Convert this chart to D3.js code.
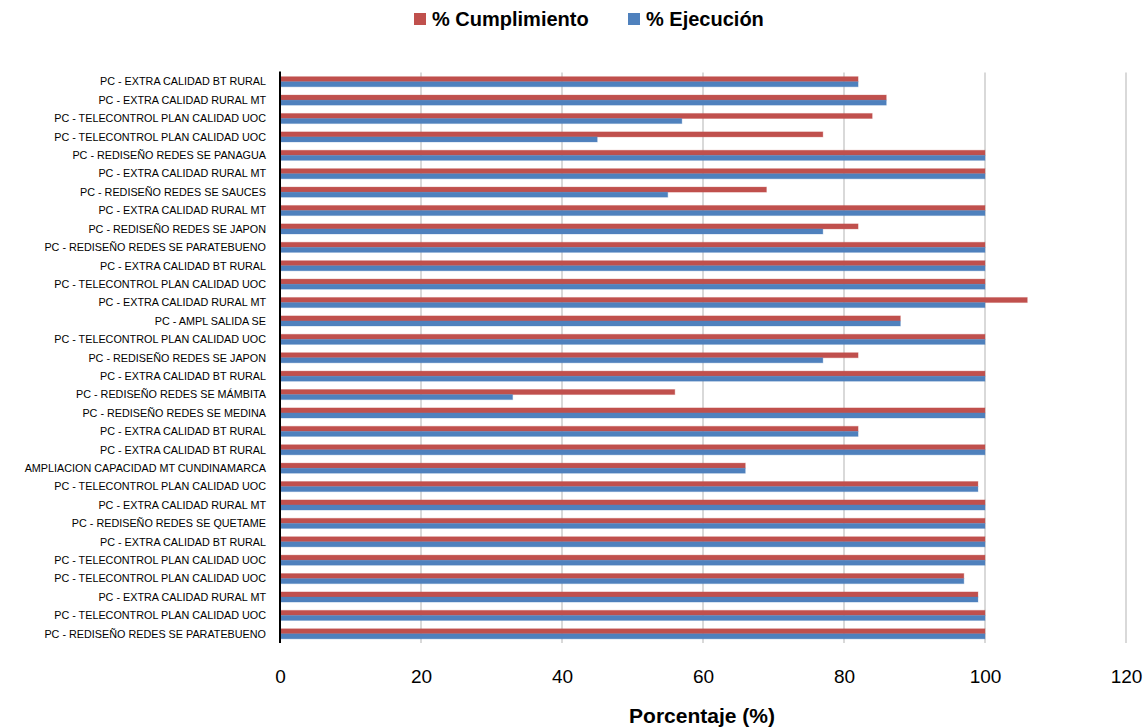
<!DOCTYPE html>
<html>
<head>
<meta charset="utf-8">
<script src="https://cdn.jsdelivr.net/npm/d3@7"></script>
<style>
  html, body { margin: 0; padding: 0; background: #ffffff; }
  svg { display: block; font-family: "Liberation Sans", Arial, sans-serif; }
</style>
</head>
<body>
<svg id="chart" width="1147" height="727"></svg>
<script>
// Project names, top to bottom
const categories = [
  "PC - EXTRA CALIDAD BT RURAL",
  "PC - EXTRA CALIDAD RURAL MT",
  "PC - TELECONTROL PLAN CALIDAD UOC",
  "PC - TELECONTROL PLAN CALIDAD UOC",
  "PC - REDISEÑO REDES SE PANAGUA",
  "PC - EXTRA CALIDAD RURAL MT",
  "PC - REDISEÑO REDES SE SAUCES",
  "PC - EXTRA CALIDAD RURAL MT",
  "PC - REDISEÑO REDES SE JAPON",
  "PC - REDISEÑO REDES SE PARATEBUENO",
  "PC - EXTRA CALIDAD BT RURAL",
  "PC - TELECONTROL PLAN CALIDAD UOC",
  "PC - EXTRA CALIDAD RURAL MT",
  "PC - AMPL SALIDA SE",
  "PC - TELECONTROL PLAN CALIDAD UOC",
  "PC - REDISEÑO REDES SE JAPON",
  "PC - EXTRA CALIDAD BT RURAL",
  "PC - REDISEÑO REDES SE MÁMBITA",
  "PC - REDISEÑO REDES SE MEDINA",
  "PC - EXTRA CALIDAD BT RURAL",
  "PC - EXTRA CALIDAD BT RURAL",
  "AMPLIACION CAPACIDAD MT CUNDINAMARCA",
  "PC - TELECONTROL PLAN CALIDAD UOC",
  "PC - EXTRA CALIDAD RURAL MT",
  "PC - REDISEÑO REDES SE QUETAME",
  "PC - EXTRA CALIDAD BT RURAL",
  "PC - TELECONTROL PLAN CALIDAD UOC",
  "PC - TELECONTROL PLAN CALIDAD UOC",
  "PC - EXTRA CALIDAD RURAL MT",
  "PC - TELECONTROL PLAN CALIDAD UOC",
  "PC - REDISEÑO REDES SE PARATEBUENO"
];

// % Cumplimiento per project
const cumplimiento = [82, 86, 84, 77, 100, 100, 69, 100, 82, 100, 100, 100, 106, 88, 100, 82,
                      100, 56, 100, 82, 100, 66, 99, 100, 100, 100, 100, 97, 99, 100, 100];

// % Ejecución per project
const ejecucion = [82, 86, 57, 45, 100, 100, 55, 100, 77, 100, 100, 100, 100, 88, 100, 77,
                   100, 33, 100, 82, 100, 66, 99, 100, 100, 100, 100, 97, 99, 100, 100];

const seriesNames = ["% Cumplimiento", "% Ejecución"];
const seriesColors = ["#C0504D", "#4F81BD"];
const xTicks = [0, 20, 40, 60, 80, 100, 120];
const xTitle = "Porcentaje (%)";

const svg = d3.select("#chart");

const plot = { left: 280, right: 1126, top: 72.5, bottom: 643 };

const x = d3.scaleLinear().domain([0, 120]).range([plot.left, plot.right]);

const y = d3.scaleBand()
  .domain(d3.range(categories.length))
  .range([plot.top, plot.bottom])
  .paddingInner(0.45)
  .paddingOuter(0.225);

const ySub = d3.scaleBand()
  .domain([0, 1])
  .range([0, y.bandwidth()]);

// Vertical gridlines
svg.append("g")
  .selectAll("line")
  .data(xTicks.filter(t => t > 0))
  .join("line")
  .attr("x1", d => x(d)).attr("x2", d => x(d))
  .attr("y1", plot.top).attr("y2", plot.bottom)
  .attr("stroke", "#d9d9d9")
  .attr("stroke-width", 2);

// Bars
const rows = categories.map((c, i) => ({ i, values: [cumplimiento[i], ejecucion[i]] }));

const groups = svg.append("g")
  .selectAll("g")
  .data(rows)
  .join("g")
  .attr("transform", d => `translate(0,${y(d.i)})`);

groups.selectAll("rect")
  .data(d => d.values.map((v, s) => ({ v, s })))
  .join("rect")
  .attr("x", x(0))
  .attr("y", d => ySub(d.s))
  .attr("width", d => x(d.v) - x(0))
  .attr("height", ySub.bandwidth())
  .attr("fill", d => seriesColors[d.s])
  .attr("stroke", d => seriesColors[d.s])
  .attr("stroke-opacity", 0.3)
  .attr("stroke-width", 1);

// Category labels
svg.append("g")
  .selectAll("text")
  .data(categories)
  .join("text")
  .attr("x", plot.left - 14)
  .attr("y", (d, i) => y(i) + y.bandwidth() / 2)
  .attr("dy", "0.35em")
  .attr("text-anchor", "end")
  .attr("font-size", "10.8px")
  .attr("fill", "#000")
  .text(d => d);

// Vertical axis line
svg.append("line")
  .attr("x1", plot.left).attr("x2", plot.left)
  .attr("y1", plot.top - 1).attr("y2", plot.bottom)
  .attr("stroke", "#000")
  .attr("stroke-width", 2);

// X axis tick labels (no axis line or tick marks)
const xAxis = d3.axisBottom(x).tickValues(xTicks).tickSize(0).tickPadding(0);
const xg = svg.append("g")
  .attr("transform", `translate(0,${plot.bottom + 26})`)
  .call(xAxis);
xg.select(".domain").remove();
xg.selectAll("text")
  .attr("font-family", "Liberation Sans, Arial, sans-serif")
  .attr("font-size", "19px")
  .attr("fill", "#000");

// X axis title
svg.append("text")
  .attr("x", 702)
  .attr("y", 723)
  .attr("text-anchor", "middle")
  .attr("font-size", "21px")
  .attr("font-weight", "bold")
  .attr("fill", "#000")
  .text(xTitle);

// Legend
const legendItems = [
  { name: seriesNames[0], color: seriesColors[0], x: 414 },
  { name: seriesNames[1], color: seriesColors[1], x: 628 }
];
const lg = svg.append("g").selectAll("g").data(legendItems).join("g")
  .attr("transform", d => `translate(${d.x},13)`);
lg.append("rect")
  .attr("width", 12).attr("height", 12)
  .attr("fill", d => d.color);
lg.append("text")
  .attr("x", 18)
  .attr("y", 13)
  .attr("font-size", "20px")
  .attr("font-weight", "bold")
  .attr("fill", "#000")
  .text(d => d.name);
</script>
</body>
</html>
